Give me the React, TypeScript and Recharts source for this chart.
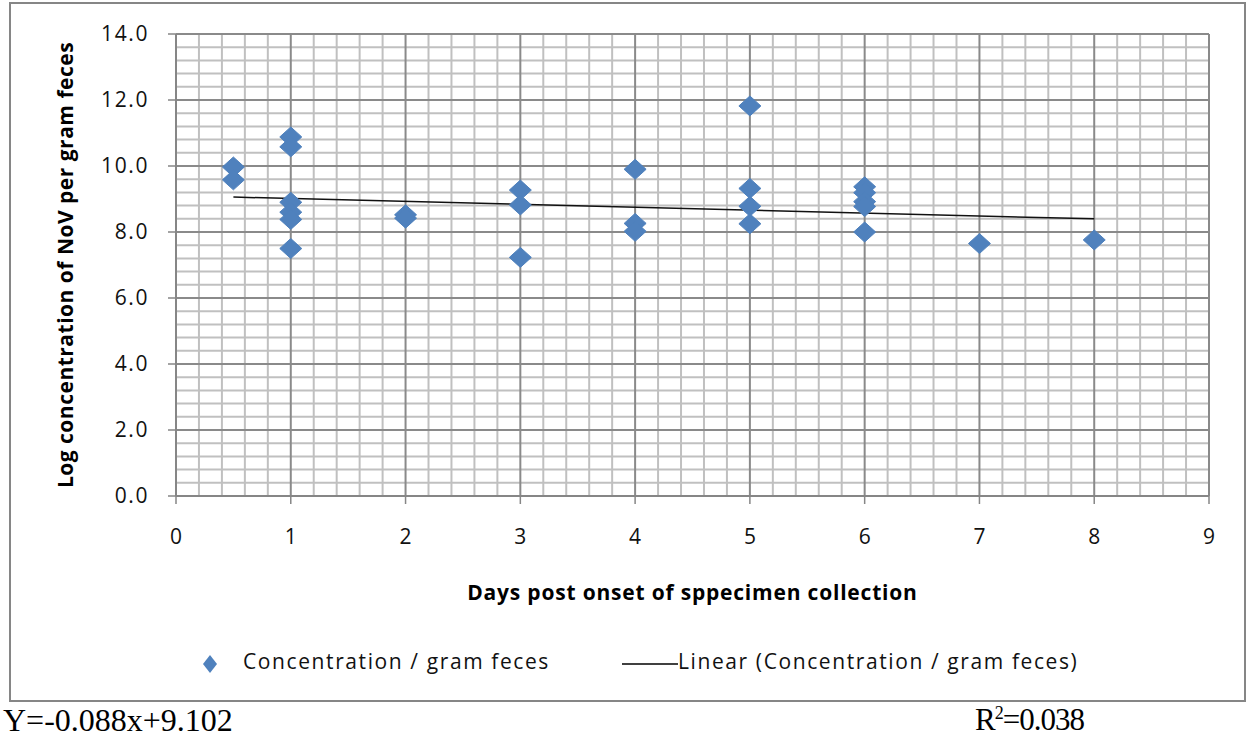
import React from 'react';
import {
  ScatterChart,
  Scatter,
  XAxis,
  YAxis,
  ReferenceLine,
  Legend,
  Label,
} from 'recharts';

// days post onset vs log NoV concentration
const days = [0.5, 0.5, 1, 1, 1, 1, 1, 1, 2, 2, 3, 3, 3, 4, 4, 4, 5, 5, 5, 5, 6, 6, 6, 6, 6, 7, 8];
const logConc = [
  9.97, 9.58, 10.88, 10.58, 8.9, 8.6, 8.38, 7.5, 8.52, 8.42, 9.27, 8.82, 7.23, 9.9, 8.26, 8.02,
  11.82, 9.32, 8.78, 8.25, 9.37, 9.19, 8.92, 8.77, 8.0, 7.65, 7.76,
];

const xTicks = [0, 1, 2, 3, 4, 5, 6, 7, 8, 9];
const yTicks = [0, 2, 4, 6, 8, 10, 12, 14];

// linear fit as printed under the chart
const slope = -0.088;
const intercept = 9.102;
const trendDays = [0.5, 8];

const points = days.map((d, i) => ({ x: d, y: logConc[i] }));
const trend = trendDays.map((d) => ({ x: d, y: intercept + slope * d }));

const minorX: number[] = [];
for (let i = 1; i <= 45; i++) if (i % 5 !== 0) minorX.push(Math.round(i * 2) / 10);
const minorY: number[] = [];
for (let i = 1; i <= 35; i++) if (i % 5 !== 0) minorY.push(Math.round(i * 4) / 10);

const BLUE = '#4F81BD';
const FONT = '"Open Sans", "Liberation Sans", sans-serif';

const Diamond = (props: any) => {
  const { cx, cy } = props;
  if (cx == null || cy == null) return <g />;
  return (
    <polygon
      points={`${cx},${cy - 10} ${cx + 11},${cy} ${cx},${cy + 10} ${cx - 11},${cy}`}
      fill={BLUE}
      stroke={BLUE}
      strokeWidth={1}
      strokeLinejoin="round"
    />
  );
};

const LegendBox = () => (
  <div style={{ position: 'relative', width: 1235, height: 32, fontFamily: FONT, fontSize: 21, letterSpacing: 1.6, color: '#111' }}>
    <svg style={{ position: 'absolute', left: 191, top: 7 }} width={20} height={20}>
      <polygon points="9,1 16,10 9,19 2,10" fill={BLUE} />
    </svg>
    <span style={{ position: 'absolute', left: 233, top: 0, whiteSpace: 'nowrap' }}>Concentration / gram feces</span>
    <svg style={{ position: 'absolute', left: 612, top: 16 }} width={56} height={3}>
      <line x1={0} y1={1} x2={56} y2={1} stroke="#000" strokeWidth={1.5} />
    </svg>
    <span style={{ position: 'absolute', left: 668, top: 0, whiteSpace: 'nowrap' }}>
      Linear (Concentration / gram feces)
    </span>
  </div>
);

export default function App() {
  return (
    <div style={{ position: 'absolute', left: 0, top: 0, width: 1249, height: 738, background: '#fff' }}>
      <div
        style={{
          position: 'absolute',
          left: 9,
          top: 2,
          width: 1237,
          height: 700,
          border: '2px solid #868686',
          boxSizing: 'border-box',
        }}
      />
      <div style={{ position: 'absolute', left: 10, top: 3 }}>
        <ScatterChart width={1235} height={698} margin={{ top: 31, right: 36, left: 66, bottom: 85 }}>
          {minorX.map((v) => (
            <ReferenceLine key={'mx' + v} x={v} stroke="#c0c0c0" strokeWidth={2} />
          ))}
          {minorY.map((v) => (
            <ReferenceLine key={'my' + v} y={v} stroke="#c0c0c0" strokeWidth={2} />
          ))}
          {xTicks.slice(1).map((v) => (
            <ReferenceLine key={'X' + v} x={v} stroke="#8a8a8a" strokeWidth={2} />
          ))}
          {yTicks.slice(1).map((v) => (
            <ReferenceLine key={'Y' + v} y={v} stroke="#8a8a8a" strokeWidth={2} />
          ))}
          <XAxis
            type="number"
            dataKey="x"
            domain={[0, 9]}
            ticks={xTicks}
            height={120}
            axisLine={{ stroke: '#868686', strokeWidth: 2 }}
            tickLine={{ stroke: '#868686', strokeWidth: 1.5 }}
            tickSize={8}
            tickMargin={25}
            tick={{ fill: '#111', fontSize: 21, fontFamily: FONT }}
          >
            <Label
              content={(p: any) => {
                const vb = p.viewBox || {};
                return (
                  <text
                    x={vb.x + vb.width / 2}
                    y={vb.y + 96}
                    textAnchor="middle"
                    dominantBaseline="central"
                    fontFamily={FONT}
                    fontWeight="bold"
                    fontSize={21}
                    letterSpacing={0.8}
                    fill="#000"
                  >
                    Days post onset of sppecimen collection
                  </text>
                );
              }}
            />
          </XAxis>
          <YAxis
            type="number"
            dataKey="y"
            domain={[0, 14]}
            ticks={yTicks}
            width={100}
            axisLine={{ stroke: '#868686', strokeWidth: 2 }}
            tickLine={{ stroke: '#868686', strokeWidth: 1.5 }}
            tickSize={8}
            tickMargin={19}
            tickFormatter={(v: number) => v.toFixed(1)}
            tick={{ fill: '#111', fontSize: 21, fontFamily: FONT, letterSpacing: 1.6 }}
          >
            <Label
              content={(p: any) => {
                const vb = p.viewBox || {};
                const cx = 55;
                const cy = vb.y + vb.height / 2;
                return (
                  <text
                    x={cx}
                    y={cy}
                    transform={`rotate(-90, ${cx}, ${cy})`}
                    textAnchor="middle"
                    dominantBaseline="central"
                    fontFamily={FONT}
                    fontWeight="bold"
                    fontSize={21}
                    letterSpacing={0.5}
                    fill="#000"
                  >
                    Log concentration of NoV per gram feces
                  </text>
                );
              }}
            />
          </YAxis>
          <Scatter
            name="Linear (Concentration / gram feces)"
            data={trend}
            line={{ stroke: '#111', strokeWidth: 1.5 }}
            shape={() => <g />}
            isAnimationActive={false}
          />
          <Scatter
            name="Concentration / gram feces"
            data={points}
            fill={BLUE}
            shape={Diamond}
            isAnimationActive={false}
          />
          <Legend
            layout="horizontal"
            verticalAlign="middle"
            align="center"
            content={() => <LegendBox />}
            wrapperStyle={{ top: 644, left: 0, width: 1235 }}
          />
        </ScatterChart>
      </div>
      <div
        style={{
          position: 'absolute',
          left: 3,
          top: 701,
          fontFamily: '"Liberation Serif", "Times New Roman", serif',
          fontSize: 32,
          lineHeight: '38px',
          color: '#000',
          whiteSpace: 'nowrap',
        }}
      >
        Y=-0.088x+9.102
      </div>
      <div
        style={{
          position: 'absolute',
          left: 975,
          top: 701,
          fontFamily: '"Liberation Serif", "Times New Roman", serif',
          fontSize: 31,
          lineHeight: '38px',
          color: '#000',
          whiteSpace: 'nowrap',
          letterSpacing: -1,
        }}
      >
        R<sup style={{ fontSize: 18, lineHeight: 0, verticalAlign: 'super' }}>2</sup>=0.038
      </div>
    </div>
  );
}
